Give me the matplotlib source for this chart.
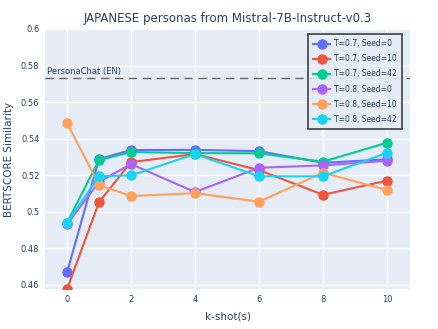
import matplotlib.pyplot as plt

# k-shot values
k_shots = [0, 1, 2, 4, 6, 8, 10]

# BERTScore similarity per run
t07_s0 = [0.4668, 0.5288, 0.5337, 0.5338, 0.5331, 0.5267, 0.5286]
t07_s10 = [0.4575, 0.5052, 0.5271, 0.5315, 0.5227, 0.5092, 0.5169]
t07_s42 = [0.4940, 0.5282, 0.5326, 0.5320, 0.5319, 0.5273, 0.5377]
t08_s0 = [0.4931, 0.5163, 0.5260, 0.5107, 0.5240, 0.5253, 0.5278]
t08_s10 = [0.5485, 0.5145, 0.5085, 0.5101, 0.5054, 0.5213, 0.5118]
t08_s42 = [0.4939, 0.5194, 0.5198, 0.5315, 0.5193, 0.5193, 0.5322]

labels = ['T=0.7, Seed=0', 'T=0.7, Seed=10', 'T=0.7, Seed=42',
          'T=0.8, Seed=0', 'T=0.8, Seed=10', 'T=0.8, Seed=42']
colors = ['#636EFA', '#EF553B', '#00CC96', '#AB63FA', '#FFA15A', '#19D3F3']

personachat_en = 0.5732

text_color = '#2a3f5f'

fig = plt.figure(figsize=(4.39, 3.29), dpi=100)
ax = fig.add_axes([0.1025, 0.1216, 0.8315, 0.7903])
ax.set_facecolor('#E5ECF6')

series = [t07_s0, t07_s10, t07_s42, t08_s0, t08_s10, t08_s42]
for vals, lab, col in zip(series, labels, colors):
    ax.plot(k_shots, vals, '-o', color=col, label=lab, lw=1.5, ms=6.5, zorder=3)

# reference line
ax.axhline(personachat_en, color='#666666', lw=1, ls=(0, (6, 4)), zorder=2)
ax.text(-0.64, personachat_en + 0.0008, 'PersonaChat (EN)', color=text_color,
        fontsize=6, va='bottom', ha='left')

ax.set_xlim(-0.69, 10.72)
ax.set_ylim(0.4576, 0.6)
ax.set_xticks([0, 2, 4, 6, 8, 10])
yt = [0.46, 0.48, 0.5, 0.52, 0.54, 0.56, 0.58, 0.6]
ax.set_yticks(yt)
ax.set_yticklabels(['0.46', '0.48', '0.5', '0.52', '0.54', '0.56', '0.58', '0.6'])
ax.grid(color='white', lw=1)
ax.set_axisbelow(True)
for s in ax.spines.values():
    s.set_visible(False)
ax.tick_params(length=0, labelsize=6, colors=text_color, pad=4)

ax.set_xlabel('k-shot(s)', fontsize=7.5, color=text_color, labelpad=6)
ax.set_ylabel('BERTSCORE Similarity', fontsize=7.5, color=text_color, labelpad=5)
ax.set_title('JAPANESE personas from Mistral-7B-Instruct-v0.3', fontsize=8.5,
             color=text_color, pad=5)

leg = ax.legend(loc='upper right', bbox_to_anchor=(0.978, 0.981), fontsize=5.5,
                frameon=True, fancybox=False, labelcolor=text_color,
                handlelength=2.2, handletextpad=0.5, borderpad=0.7,
                labelspacing=0.8, borderaxespad=0)
leg.get_frame().set_edgecolor('#222222')
leg.get_frame().set_linewidth(1.2)
leg.get_frame().set_facecolor('#E5ECF6')
leg.get_frame().set_alpha(0.85)

fig.savefig('out.png', dpi=100)
